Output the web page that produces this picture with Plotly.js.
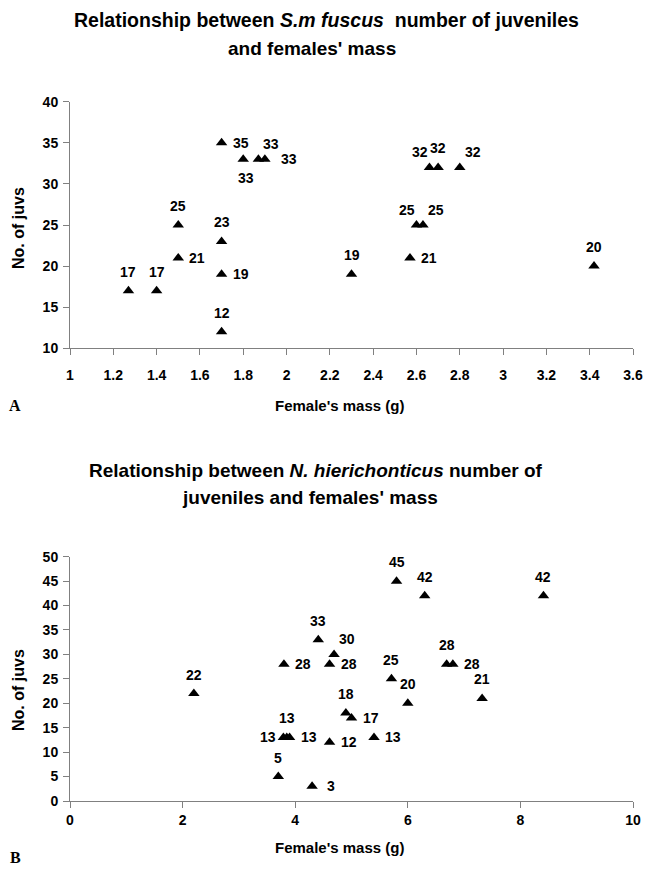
<!DOCTYPE html>
<html>
<head>
<meta charset="utf-8">
<script src="https://cdn.plot.ly/plotly-3.0.1.min.js"></script>
<style>html,body{margin:0;padding:0;background:#fff;}#chart{width:654px;height:874px;}</style>
</head>
<body>
<div id="chart"></div>
<script>
// Chart A: S.m fuscus
const massA = [1.27, 1.4, 1.5, 1.5, 1.7, 1.7, 1.7, 1.7, 1.8, 1.87, 1.9, 2.3, 2.57, 2.6, 2.63, 2.66, 2.7, 2.8, 3.42];
const juvsA = [17, 17, 25, 21, 35, 23, 19, 12, 33, 33, 33, 19, 21, 25, 25, 32, 32, 32, 20];
const labelPosA = ['t','t','t','r','r','t','r','t','b','tr','rr','t','r','tl','tr','tl','t','tr','t'];

// Chart B: N. hierichonticus
const massB = [2.2, 3.7, 4.3, 3.8, 3.79, 3.85, 3.9, 4.41, 4.69, 4.61, 4.61, 4.9, 5.0, 5.8, 6.3, 8.41, 5.71, 6.0, 6.69, 6.8, 7.32, 5.4];
const juvsB = [22, 5, 3, 28, 13, 13, 13, 33, 30, 28, 12, 18, 17, 45, 42, 42, 25, 20, 28, 28, 21, 13];
const labelPosB = ['t','t','r','r','l','t','r','t','tr','r','r','t','r','t','t','t','t','t','t','r','t','r'];

const xTicksA = [1, 1.2, 1.4, 1.6, 1.8, 2, 2.2, 2.4, 2.6, 2.8, 3, 3.2, 3.4, 3.6];
const yTicksA = [10, 15, 20, 25, 30, 35, 40];
const xTicksB = [0, 2, 4, 6, 8, 10];
const yTicksB = [0, 5, 10, 15, 20, 25, 30, 35, 40, 45, 50];

const FONT = 'Liberation Sans, Arial, sans-serif';
const bold = (size) => ({family: FONT, size: size, color: '#000', weight: 'bold'});

// label placement relative to marker (pixels)
const OFFSET = {
  t:  {dx: 0,   dy: 19},
  b:  {dx: 3,   dy: -19},
  r:  {dx: 19,  dy: 0},
  rr: {dx: 24,  dy: 0},
  l:  {dx: -15, dy: 0},
  tr: {dx: 13,  dy: 15},
  tl: {dx: -9,  dy: 15}
};

function labels(xs, ys, pos, xref, yref) {
  return xs.map((x, i) => ({
    x: x, y: ys[i], xref: xref, yref: yref, text: String(ys[i]),
    xshift: OFFSET[pos[i]].dx, yshift: OFFSET[pos[i]].dy,
    xanchor: 'center', yanchor: 'middle', showarrow: false, font: bold(14)
  }));
}

const traceA = {
  x: massA, y: juvsA, type: 'scatter', mode: 'markers',
  marker: {symbol: 'triangle-up', size: 10, color: '#000'},
  xaxis: 'x', yaxis: 'y', cliponaxis: false, hoverinfo: 'none'
};
const traceB = {
  x: massB, y: juvsB, type: 'scatter', mode: 'markers',
  marker: {symbol: 'triangle-up', size: 10, color: '#000'},
  xaxis: 'x2', yaxis: 'y2', cliponaxis: false, hoverinfo: 'none'
};

function axis(extra) {
  return Object.assign({
    showline: true, linecolor: '#808080', linewidth: 1,
    ticks: 'outside', ticklen: 6, tickcolor: '#808080', tickwidth: 1,
    showgrid: false, zeroline: false, fixedrange: true,
    tickfont: bold(14)
  }, extra);
}

const H = 874, W = 654;
const py = v => 1 - v / H;
const px = v => v / W;

function paperText(text, x, y, size, extra) {
  return Object.assign({text: text, xref: 'paper', yref: 'paper', x: px(x), y: py(y),
    xanchor: 'center', yanchor: 'middle', showarrow: false, font: bold(size)}, extra || {});
}
const serif = {family: 'Liberation Serif, Times New Roman, serif', size: 16, color: '#000', weight: 'bold'};

const layout = {
  width: W, height: H,
  margin: {l: 0, r: 0, t: 0, b: 0},
  paper_bgcolor: '#fff', plot_bgcolor: '#fff',
  showlegend: false,
  xaxis: axis({domain: [px(70), px(633)], range: [1, 3.6], tickvals: xTicksA, anchor: 'y', ticklabelstandoff: 8}),
  yaxis: axis({domain: [py(348.3), py(101.7)], range: [10, 40], tickvals: yTicksA, anchor: 'x', ticklabelstandoff: 2}),
  xaxis2: axis({domain: [px(70), px(633)], range: [0, 10], tickvals: xTicksB, anchor: 'y2', ticklabelstandoff: 0}),
  yaxis2: axis({domain: [py(801), py(556.7)], range: [0, 50], tickvals: yTicksB, anchor: 'x2', ticklabelstandoff: 2}),
  annotations: [
    paperText('Relationship between <i>S.m fuscus</i>  number of juveniles', 72, 20, 19.5, {xanchor: 'left'}),
    paperText('and females\' mass', 312, 48, 19),
    paperText('Female\'s mass (g)', 340, 405, 15),
    paperText('No. of juvs', 18, 228, 16, {textangle: -90}),
    paperText('A', 15, 406, 16, {font: serif}),
    paperText('Relationship between <i>N. hierichonticus</i> number of', 316, 470, 19),
    paperText('juveniles and females\' mass', 310, 497, 19),
    paperText('Female\'s mass (g)', 340, 847, 15),
    paperText('No. of juvs', 18, 690, 16, {textangle: -90}),
    paperText('B', 15, 857, 16, {font: serif})
  ].concat(labels(massA, juvsA, labelPosA, 'x', 'y'))
   .concat(labels(massB, juvsB, labelPosB, 'x2', 'y2'))
};

Plotly.newPlot('chart', [traceA, traceB], layout, {staticPlot: true, displayModeBar: false});
</script>
</body>
</html>
